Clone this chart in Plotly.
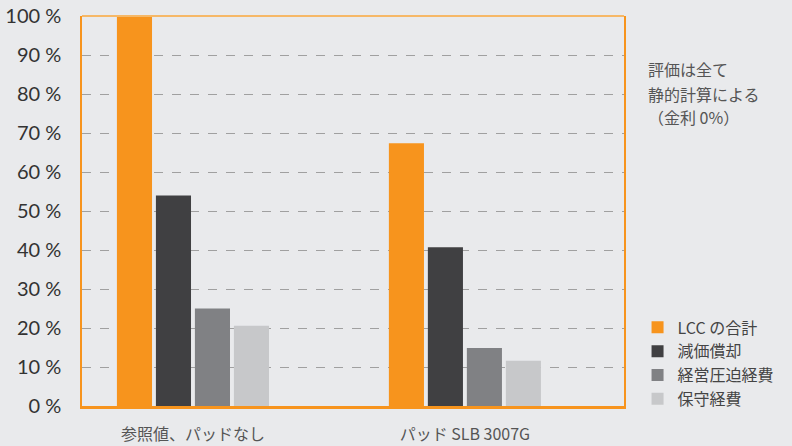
import plotly.graph_objects as go

categories = ["参照値、パッドなし", "パッド SLB 3007G"]
series_names = ["LCC の合計", "減価償却", "経営圧迫経費", "保守経費"]
lcc_total = [100, 67.4]
depreciation = [54.0, 40.7]
operating = [25.0, 14.9]
maintenance = [20.6, 11.6]
colors = ["#F7941D", "#404042", "#808184", "#C7C8CA"]
y_ticks = [0, 10, 20, 30, 40, 50, 60, 70, 80, 90, 100]
y_tick_labels = [f"{v} %" for v in y_ticks]
note_lines = ["評価は全て", "静的計算による", "（金利 0%）"]

JP = "Noto Sans CJK JP"
BG = "#E9EAEC"

fig = go.Figure()
for name, vals, col in zip(series_names, [lcc_total, depreciation, operating, maintenance], colors):
    fig.add_trace(go.Bar(x=categories, y=vals, name=name, marker=dict(color=col, line=dict(width=0))))

fig.update_layout(
    width=792, height=446,
    paper_bgcolor=BG, plot_bgcolor=BG,
    margin=dict(l=82, r=168, t=16, b=40, autoexpand=False),
    barmode="group", bargap=0.4265, bargroupgap=0.1,
    font=dict(family=JP, color="#555555", size=16),
    showlegend=True,
    legend=dict(x=1.025, xanchor="left", y=0.245, yanchor="top",
                bgcolor="rgba(0,0,0,0)", font=dict(size=16, color="#444444", family=JP),
                tracegroupgap=0, itemsizing="constant"),
    xaxis=dict(type="category", range=[-0.408, 1.585], showgrid=False, automargin=False,
               showline=True, linecolor="#F7941D", linewidth=2.5, mirror=False,
               ticks="", tickfont=dict(size=16, color="#555555", family=JP), ticklabelstandoff=12),
    yaxis=dict(range=[0, 100], tickvals=y_ticks, ticktext=y_tick_labels, automargin=False,
               showgrid=True, gridcolor="#A0A0A0", griddash="dash", gridwidth=1,
               zeroline=False, showline=True, linecolor="#F7941D", linewidth=1.5, mirror=True,
               ticks="", tickfont=dict(size=20, color="#333333", family="Lato"), ticklabelstandoff=15),
)

fig.add_shape(type="line", xref="paper", yref="paper", x0=0, x1=1, y0=1, y1=1,
              line=dict(color="#F6B867", width=2))

note_y = [69, 94, 117]
for line, py in zip(note_lines, note_y):
    fig.add_annotation(xref="paper", yref="paper", x=1.04, y=1 - (py - 16) / 390,
                       xanchor="left", yanchor="middle",
                       text=line, showarrow=False, align="left",
                       font=dict(size=16, color="#555555", family=JP))

fig.write_html("out.html", config={"displayModeBar": False},
               post_script="document.body.style.margin='0';document.body.style.padding='0';")
